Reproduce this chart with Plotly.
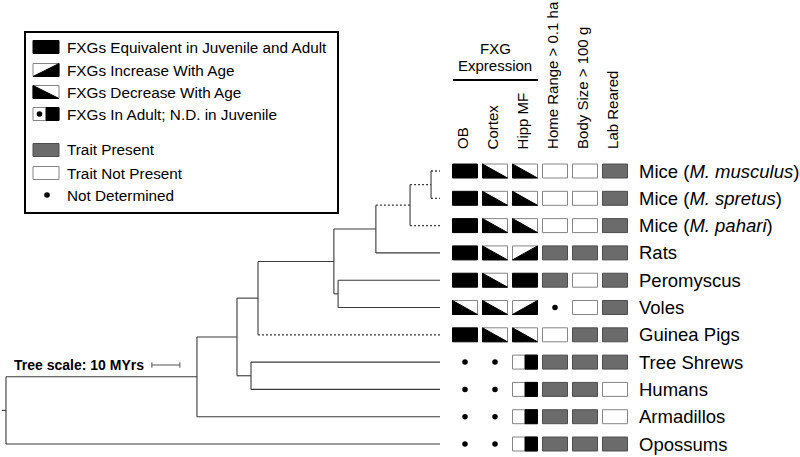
import plotly.graph_objects as go

# ---------------- data ----------------
species = ["Mice (<i>M. musculus</i>)", "Mice (<i>M. spretus</i>)", "Mice (<i>M. pahari</i>)",
           "Rats", "Peromyscus", "Voles", "Guinea Pigs", "Tree Shrews", "Humans",
           "Armadillos", "Opossums"]
leaf_ids = ["musculus", "spretus", "pahari", "rats", "peromyscus", "voles", "guinea",
            "treeshrew", "human", "armadillo", "opossum"]

columns = ["OB", "Cortex", "Hipp MF", "Home Range > 0.1 ha", "Body Size > 100 g", "Lab Reared"]

# FXG expression codes: eq = equivalent, inc = increase, dec = decrease,
# adult = in adult / N.D. juvenile, nd = not determined
ob_expr = ["eq", "eq", "eq", "eq", "eq", "dec", "eq", "nd", "nd", "nd", "nd"]
cortex_expr = ["dec", "dec", "dec", "dec", "dec", "dec", "dec", "nd", "nd", "nd", "nd"]
hipp_expr = ["dec", "dec", "dec", "inc", "eq", "inc", "dec", "adult", "adult", "adult", "adult"]
# traits: 1 present, 0 absent, None not determined
home_range = [0, 0, 0, 1, 1, None, 0, 1, 1, 1, 1]
body_size = [0, 0, 0, 1, 0, 0, 1, 1, 1, 1, 1]
lab_reared = [1, 1, 1, 1, 1, 1, 1, 1, 0, 0, 1]

# tree: node ages (million years before present), leaves at 0
node_age = {"root": 155.0, "A": 86.8, "B": 72.5, "C": 67.5, "D": 65.0, "E": 37.9,
            "F": 36.4, "G": 22.9, "H": 10.7, "I": 3.2}
children = {"root": ["A", "opossum"], "A": ["B", "armadillo"], "B": ["D", "C"],
            "C": ["treeshrew", "human"], "D": ["E", "guinea"], "E": ["G", "F"],
            "F": ["peromyscus", "voles"], "G": ["H", "rats"], "H": ["I", "pahari"],
            "I": ["musculus", "spretus"]}
dotted_edges = {("G", "H"), ("H", "I"), ("H", "pahari"), ("I", "musculus"),
                ("I", "spretus"), ("D", "guinea")}
root_stem = 1.5
scale_bar_myr = 10

# ---------------- geometry helpers ----------------
W, H = 800, 457
def P(xp, yp):
    return xp / W, 1 - yp / H

FONT = "Arial, Liberation Sans, sans-serif"
LINE_C = "#3a3a3a"

# ---------------- tree ----------------
ages = dict(node_age)
ypos = {}
for i, lid in enumerate(leaf_ids):
    ages[lid] = 0.0
    ypos[lid] = i

def get_y(n):
    if n in ypos:
        return ypos[n]
    ys = [get_y(c) for c in children[n]]
    ypos[n] = sum(ys) / len(ys)
    return ypos[n]
get_y("root")

sx, sy, dx, dy = [], [], [], []
for n, ch in children.items():
    ys = [ypos[c] for c in ch]
    sx += [ages[n], ages[n], None]
    sy += [min(ys), max(ys), None]
    for c in ch:
        if (n, c) in dotted_edges:
            dx += [ages[n], ages[c], None]
            dy += [ypos[c], ypos[c], None]
        else:
            sx += [ages[n], ages[c], None]
            sy += [ypos[c], ypos[c], None]
sx += [ages["root"] + root_stem, ages["root"], None]
sy += [ypos["root"], ypos["root"], None]

fig = go.Figure()
fig.add_trace(go.Scatter(x=sx, y=sy, mode="lines", line=dict(color=LINE_C, width=1.1),
                         hoverinfo="skip", xaxis="x", yaxis="y"))
fig.add_trace(go.Scatter(x=dx, y=dy, mode="lines",
                         line=dict(color=LINE_C, width=1.3, dash="2px,2px"),
                         hoverinfo="skip", xaxis="x", yaxis="y"))

# scale bar
sb_y = 7.106
sb_x0 = 102.9
sb_x1 = sb_x0 - scale_bar_myr
fig.add_trace(go.Scatter(x=[sb_x0, sb_x1, None, sb_x0, sb_x0, None, sb_x1, sb_x1],
                         y=[sb_y, sb_y, None, sb_y - 0.1, sb_y + 0.1, None, sb_y - 0.1, sb_y + 0.1],
                         mode="lines", line=dict(color="#555", width=1),
                         hoverinfo="skip", xaxis="x", yaxis="y"))

annotations = []
annotations.append(dict(x=sb_x0 + 2.2, y=sb_y, xref="x", yref="y", xanchor="right",
                        yanchor="middle", showarrow=False,
                        text="<b>Tree scale: 10 MYrs</b>",
                        font=dict(family=FONT, size=14, color="black")))

# ---------------- trait boxes ----------------
hw, hh = 0.417, 0.256
shapes = []
dot_x, dot_y = [], []
GRAY_F, GRAY_L = "#6b6b6b", "#4d4d4d"
WHITE_L = "#858585"

def rect(x0, x1, y0, y1, fill, line, lw=1):
    shapes.append(dict(type="rect", xref="x2", yref="y", x0=x0, x1=x1, y0=y0, y1=y1,
                       fillcolor=fill, line=dict(color=line, width=lw), layer="above"))

def path(pts, fill):
    d = "M " + " L ".join(f"{a},{b}" for a, b in pts) + " Z"
    shapes.append(dict(type="path", xref="x2", yref="y", path=d, fillcolor=fill,
                       line=dict(color=fill, width=1), layer="above"))

def expr_cell(code, cx, cy):
    x0, x1, y0, y1 = cx - hw, cx + hw, cy - hh, cy + hh  # y0 top (reversed axis), y1 bottom
    if code == "eq":
        rect(x0, x1, y0, y1, "black", "black")
    elif code == "dec":
        rect(x0, x1, y0, y1, "white", WHITE_L)
        path([(x0, y0), (x0, y1), (x1, y1)], "black")
    elif code == "inc":
        rect(x0, x1, y0, y1, "white", WHITE_L)
        path([(x0, y1), (x1, y1), (x1, y0)], "black")
    elif code == "adult":
        rect(x0, x1, y0, y1, "white", WHITE_L)
        rect(cx, x1, y0, y1, "black", "black")
        dot_x.append(cx - 0.2)
        dot_y.append(cy)
    else:
        dot_x.append(cx)
        dot_y.append(cy)

def trait_cell(v, cx, cy):
    x0, x1, y0, y1 = cx - hw, cx + hw, cy - hh, cy + hh
    if v is None:
        dot_x.append(cx)
        dot_y.append(cy)
    elif v == 1:
        rect(x0, x1, y0, y1, GRAY_F, GRAY_L)
    else:
        rect(x0, x1, y0, y1, "white", WHITE_L)

for i in range(len(species)):
    for j, col in enumerate([ob_expr, cortex_expr, hipp_expr]):
        expr_cell(col[i], j, i)
    for j, col in enumerate([home_range, body_size, lab_reared]):
        trait_cell(col[i], j + 3, i)
    annotations.append(dict(x=5.74, y=i, xref="x2", yref="y", xanchor="left",
                            yanchor="middle", showarrow=False, text=species[i],
                            font=dict(family=FONT, size=18.5, color="black")))

fig.add_trace(go.Scatter(x=dot_x, y=dot_y, mode="markers",
                         marker=dict(color="black", size=5.5), hoverinfo="skip",
                         xaxis="x2", yaxis="y"))

# column headers
for j, c in enumerate(columns):
    annotations.append(dict(x=j - 0.08, y=-0.72, xref="x2", yref="y", xanchor="center",
                            yanchor="bottom", textangle=-90, showarrow=False, text=c,
                            font=dict(family=FONT, size=15, color="black")))
annotations.append(dict(x=1.0, y=-4.5, xref="x2", yref="y", showarrow=False, text="FXG",
                        xanchor="center", yanchor="middle",
                        font=dict(family=FONT, size=15, color="black")))
annotations.append(dict(x=1.0, y=-3.85, xref="x2", yref="y", showarrow=False, text="Expression",
                        xanchor="center", yanchor="middle",
                        font=dict(family=FONT, size=15, color="black")))
shapes.append(dict(type="line", xref="x2", yref="y", x0=-0.4, x1=2.43, y0=-3.33, y1=-3.33,
                   line=dict(color="black", width=2)))

# ---------------- legend box ----------------
x0p, y0p = P(25, 32)
x1p, y1p = P(338, 213)
shapes.append(dict(type="rect", xref="paper", yref="paper", x0=x0p, y0=y1p, x1=x1p, y1=y0p,
                   line=dict(color="black", width=2), fillcolor="white", layer="below"))

leg_items = [("eq", "FXGs Equivalent in Juvenile and Adult", 47),
             ("inc", "FXGs Increase With Age", 70),
             ("dec", "FXGs Decrease With Age", 92),
             ("adult", "FXGs In Adult; N.D. in Juvenile", 114),
             ("present", "Trait Present", 150),
             ("absent", "Trait Not Present", 173),
             ("nd", "Not Determined", 195)]

def prect(xa, xb, ya, yb, fill, line):
    a, b = P(xa, ya)
    c, d = P(xb, yb)
    shapes.append(dict(type="rect", xref="paper", yref="paper", x0=a, x1=c, y0=d, y1=b,
                       fillcolor=fill, line=dict(color=line, width=1)))

def ppath(pts, fill):
    d = "M " + " L ".join("{},{}".format(*P(a, b)) for a, b in pts) + " Z"
    shapes.append(dict(type="path", xref="paper", yref="paper", path=d, fillcolor=fill,
                       line=dict(color=fill, width=1)))

def pdot(xc, yc, r=2.8):
    a, b = P(xc - r, yc - r)
    c, d = P(xc + r, yc + r)
    shapes.append(dict(type="circle", xref="paper", yref="paper", x0=a, x1=c, y0=d, y1=b,
                       fillcolor="black", line=dict(color="black", width=0)))

for code, label, yc in leg_items:
    xa, xb, ya, yb = 33, 59, yc - 6.5, yc + 6.5
    if code == "eq":
        prect(xa, xb, ya, yb, "black", "black")
    elif code == "inc":
        prect(xa, xb, ya, yb, "white", WHITE_L)
        ppath([(xa, yb), (xb, yb), (xb, ya)], "black")
    elif code == "dec":
        prect(xa, xb, ya, yb, "white", WHITE_L)
        ppath([(xa, ya), (xa, yb), (xb, yb)], "black")
    elif code == "adult":
        prect(xa, xb, ya, yb, "white", WHITE_L)
        prect((xa + xb) / 2, xb, ya, yb, "black", "black")
        pdot(xa + 6.5, yc)
    elif code == "present":
        prect(xa, xb, ya, yb, GRAY_F, GRAY_L)
    elif code == "absent":
        prect(xa, xb, ya, yb, "white", WHITE_L)
    else:
        pdot(47, yc)
    lx, ly = P(65, yc)
    annotations.append(dict(x=lx, y=ly, xref="paper", yref="paper", xanchor="left",
                            yanchor="middle", showarrow=False, text=label,
                            font=dict(family=FONT, size=15.3, color="black")))

# ---------------- layout ----------------
fig.update_layout(
    width=W, height=H, margin=dict(l=0, r=0, t=0, b=0),
    paper_bgcolor="white", plot_bgcolor="white", showlegend=False,
    xaxis=dict(range=[157.14, -128.57], visible=False, domain=[0, 1]),
    xaxis2=dict(range=[-15.5, 11.1667], visible=False, overlaying="x", anchor="y", domain=[0, 1]),
    yaxis=dict(range=[10.476, -6.264], visible=False, domain=[0, 1]),
    shapes=shapes, annotations=annotations,
)

fig.write_html("out.html", config={"displayModeBar": False},
               post_script="document.body.style.margin='0';document.body.style.overflow='hidden';")
